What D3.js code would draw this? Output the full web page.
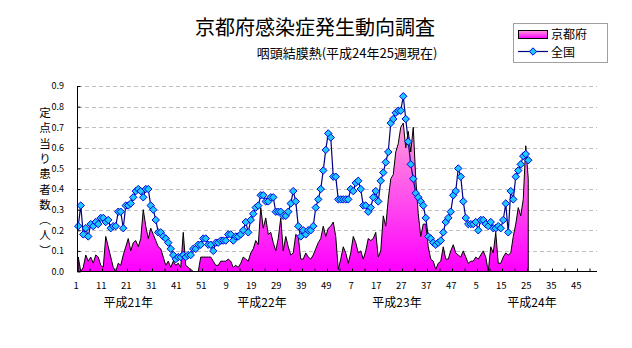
<!DOCTYPE html>
<html><head><meta charset="utf-8">
<script src="https://cdn.jsdelivr.net/npm/d3@7"></script>
<style>
body{margin:0;background:#fff;}
svg{display:block;}
text{font-family:"Noto Sans CJK JP","Noto Sans",sans-serif;fill:#000;}
</style>
</head><body>
<svg id="chart" width="632" height="348"></svg>
<script>
// ---------------- data ----------------
const chartTitle = "京都府感染症発生動向調査";
const chartSubtitle = "咽頭結膜熱(平成24年25週現在)";
const yAxisTitle = ["定","点","当","り","患","者","数","︵","人","︶"];
const seriesNames = ["京都府","全国"];
const yearLabels = ["平成21年","平成22年","平成23年","平成24年"];
const weeksPerYear = [52,52,52,52];
const yTickValues = [0,0.1,0.2,0.3,0.4,0.5,0.6,0.7,0.8,0.9];

// 京都府 (定点当り患者数), weekly from 平成21年第1週
const kyoto = [
0.07,0.00,0.02,0.08,0.05,0.07,0.04,0.08,0.07,0.03,
0.02,0.17,0.12,0.07,0.02,0.00,0.04,0.03,0.08,0.12,
0.16,0.10,0.14,0.15,0.12,0.16,0.30,0.22,0.16,0.21,
0.18,0.15,0.12,0.11,0.07,0.03,0.05,0.02,0.05,0.03,
0.04,0.02,0.19,0.03,0.02,0.01,0.00,0.00,0.00,0.07,
0.07,0.07,0.07,0.07,0.05,0.03,0.03,0.05,0.05,0.05,
0.06,0.05,0.02,0.03,0.02,0.04,0.07,0.06,0.05,0.09,
0.11,0.15,0.13,0.31,0.21,0.26,0.18,0.19,0.14,0.10,
0.16,0.26,0.10,0.17,0.12,0.08,0.09,0.18,0.17,0.06,
0.06,0.09,0.07,0.06,0.08,0.11,0.14,0.16,0.22,0.17,
0.21,0.22,0.24,0.17,0.01,0.06,0.12,0.09,0.04,0.09,
0.17,0.14,0.09,0.10,0.06,0.10,0.16,0.15,0.16,0.19,
0.07,0.10,0.27,0.22,0.35,0.45,0.47,0.58,0.62,0.70,
0.72,0.60,0.68,0.58,0.70,0.45,0.28,0.17,0.23,0.23,
0.12,0.06,0.05,0.01,0.04,0.05,0.12,0.06,0.06,0.10,
0.13,0.09,0.08,0.07,0.10,0.07,0.04,0.05,0.05,0.07,
0.06,0.08,0.10,0.07,0.00,0.12,0.09,0.19,0.04,0.04,
0.07,0.09,0.08,0.09,0.17,0.23,0.31,0.27,0.35,0.61,
0.45];

// 全国
const national = [
0.22,0.32,0.18,0.21,0.17,0.23,0.22,0.24,0.23,0.26,
0.26,0.24,0.25,0.21,0.22,0.22,0.29,0.29,0.21,0.32,
0.32,0.33,0.36,0.39,0.40,0.39,0.36,0.40,0.40,0.32,
0.30,0.25,0.19,0.19,0.17,0.16,0.14,0.11,0.08,0.06,
0.07,0.07,0.08,0.07,0.08,0.08,0.11,0.11,0.13,0.13,
0.16,0.16,0.13,0.13,0.10,0.14,0.14,0.15,0.15,0.15,
0.18,0.18,0.15,0.17,0.17,0.18,0.20,0.24,0.19,0.25,
0.28,0.31,0.32,0.37,0.37,0.34,0.34,0.36,0.36,0.29,
0.29,0.29,0.27,0.27,0.29,0.33,0.39,0.34,0.22,0.17,
0.20,0.18,0.20,0.20,0.22,0.31,0.35,0.40,0.49,0.59,
0.67,0.65,0.46,0.46,0.35,0.35,0.35,0.35,0.35,0.40,
0.39,0.43,0.44,0.40,0.32,0.32,0.29,0.31,0.36,0.39,
0.34,0.44,0.48,0.53,0.58,0.72,0.74,0.77,0.78,0.78,
0.85,0.74,0.63,0.52,0.45,0.38,0.36,0.34,0.32,0.26,
0.17,0.16,0.14,0.13,0.14,0.15,0.19,0.24,0.26,0.29,
0.37,0.39,0.50,0.46,0.34,0.26,0.23,0.23,0.23,0.24,
0.20,0.25,0.25,0.23,0.22,0.24,0.21,0.21,0.22,0.21,
0.25,0.33,0.19,0.39,0.35,0.46,0.49,0.52,0.56,0.57,
0.54];

// ---------------- layout ----------------
const svg = d3.select("#chart");
const plotL = 77, plotR = 597, plotT = 86, plotB = 271.5;

const categories = [];
weeksPerYear.forEach((n, yi) => { for (let w = 1; w <= n; w++) categories.push({yi, week: w}); });
const idx = d3.range(categories.length);

const x = d3.scaleBand().domain(idx).range([plotL, plotR]).paddingInner(0).paddingOuter(0);
const xc = i => x(i) + x.bandwidth() / 2;
const xEdge = d3.scaleLinear().domain([0, categories.length]).range([plotL, plotR]);
const y = d3.scaleLinear().domain([0, 0.9]).range([plotB, plotT]);
const crisp = v => Math.round(v) + 0.5;

// gradients
const defs = svg.append("defs");
const g1 = defs.append("linearGradient").attr("id", "pinkArea")
  .attr("gradientUnits", "userSpaceOnUse").attr("x1", 0).attr("x2", 0)
  .attr("y1", y(0.74)).attr("y2", y(0));
g1.append("stop").attr("offset", "0%").attr("stop-color", "#ffa3d8");
g1.append("stop").attr("offset", "100%").attr("stop-color", "#ff00ff");
const g2 = defs.append("linearGradient").attr("id", "pinkLegend")
  .attr("x1", 0).attr("x2", 0).attr("y1", 0).attr("y2", 1);
g2.append("stop").attr("offset", "0%").attr("stop-color", "#ff99dd");
g2.append("stop").attr("offset", "100%").attr("stop-color", "#ff00ff");

// gridlines
svg.append("g").selectAll("line").data(yTickValues.filter(v => v > 0)).join("line")
  .attr("x1", plotL + 1).attr("x2", plotR)
  .attr("y1", d => crisp(y(d))).attr("y2", d => crisp(y(d)))
  .attr("stroke", "#c0c0c0").attr("stroke-width", 1).attr("stroke-dasharray", "4,3");

// area (京都府)
const area = d3.area().x((d, i) => xc(i)).y0(y(0)).y1(d => y(d));
svg.append("path").datum(kyoto).attr("d", area)
  .attr("fill", "url(#pinkArea)").attr("stroke", "#000").attr("stroke-width", 1)
  .attr("stroke-linejoin", "miter");

// line (全国)
const line = d3.line().x((d, i) => xc(i)).y(d => y(d));
svg.append("path").datum(national).attr("d", line)
  .attr("fill", "none").attr("stroke", "#000080").attr("stroke-width", 1.2);
const diamond = "M0,-3.7L3.7,0L0,3.7L-3.7,0Z";
svg.append("g").selectAll("path").data(national).join("path")
  .attr("d", diamond)
  .attr("transform", (d, i) => `translate(${xc(i)},${y(d)})`)
  .attr("fill", "#1ec8ff").attr("stroke", "#0000e0").attr("stroke-width", 1);

// axes
const yAxis = d3.axisLeft(y).tickValues(yTickValues).tickSize(-3).tickPadding(13)
  .tickFormat(d3.format(".1f"));
const yg = svg.append("g").attr("transform", `translate(${plotL},0)`).call(yAxis);
yg.select(".domain").attr("d", `M0.5,${plotT}V${plotB}`).attr("stroke", "#000");
yg.selectAll(".tick line").attr("stroke", "#000").attr("transform", "translate(0.5,0)");
yg.selectAll(".tick text").attr("font-size", 9).attr("font-family", "'Noto Sans CJK JP',sans-serif").attr("fill", "#000");

const xAxis = d3.axisBottom(xEdge).tickValues(d3.range(0, categories.length + 1, 5)).tickSize(-3).tickFormat("");
const xg = svg.append("g").attr("transform", `translate(0,${plotB})`).call(xAxis);
xg.select(".domain").attr("d", `M${plotL},0H${plotR}`).attr("stroke", "#000");
xg.selectAll(".tick line").attr("stroke", "#000");

// x labels (week numbers every 10)
svg.append("g").selectAll("text").data(idx.filter(i => i % 10 === 0)).join("text")
  .attr("x", i => xc(i) - 2).attr("y", 289)
  .attr("text-anchor", "middle").attr("font-size", 9.5)
  .text(i => categories[i].week);

// year labels
const yearStart = d3.cumsum([0, ...weeksPerYear]);
const yearLabelOffset = [20, 21.5, 23.5, 25.5];
svg.append("g").selectAll("text").data(yearLabels).join("text")
  .attr("x", (d, k) => xc(Math.min(yearStart[k] + Math.floor(yearLabelOffset[k]), categories.length - 1)) + (yearLabelOffset[k] % 1) * x.bandwidth())
  .attr("y", 307).attr("text-anchor", "middle").attr("font-size", 12)
  .text(d => d);

// titles
svg.append("text").attr("x", 315).attr("y", 35).attr("text-anchor", "middle")
  .attr("font-size", 20).text(chartTitle);
svg.append("text").attr("x", 347).attr("y", 58).attr("text-anchor", "middle")
  .attr("font-size", 13).text(chartSubtitle);

// vertical y title
svg.append("g").selectAll("text").data(yAxisTitle).join("text")
  .attr("x", 45).attr("y", (d, i) => 117 + i * 15.3)
  .attr("text-anchor", "middle").attr("font-size", 11.5).text(d => d);

// legend
const lg = svg.append("g");
lg.append("rect").attr("x", 513.5).attr("y", 23.5).attr("width", 94).attr("height", 39)
  .attr("fill", "#fff").attr("stroke", "#a0a0a0");
lg.append("rect").attr("x", 518.5).attr("y", 30.5).attr("width", 29).attr("height", 8)
  .attr("fill", "url(#pinkLegend)").attr("stroke", "#000");
lg.append("text").attr("x", 551).attr("y", 38.5).attr("font-size", 12).text(seriesNames[0]);
lg.append("line").attr("x1", 518).attr("x2", 548).attr("y1", 51.5).attr("y2", 51.5)
  .attr("stroke", "#000080").attr("stroke-width", 1.2);
lg.append("path").attr("d", diamond).attr("transform", "translate(533,51.5)")
  .attr("fill", "#1ec8ff").attr("stroke", "#0000e0");
lg.append("text").attr("x", 551).attr("y", 56.5).attr("font-size", 12).text(seriesNames[1]);
</script>
</body></html>
